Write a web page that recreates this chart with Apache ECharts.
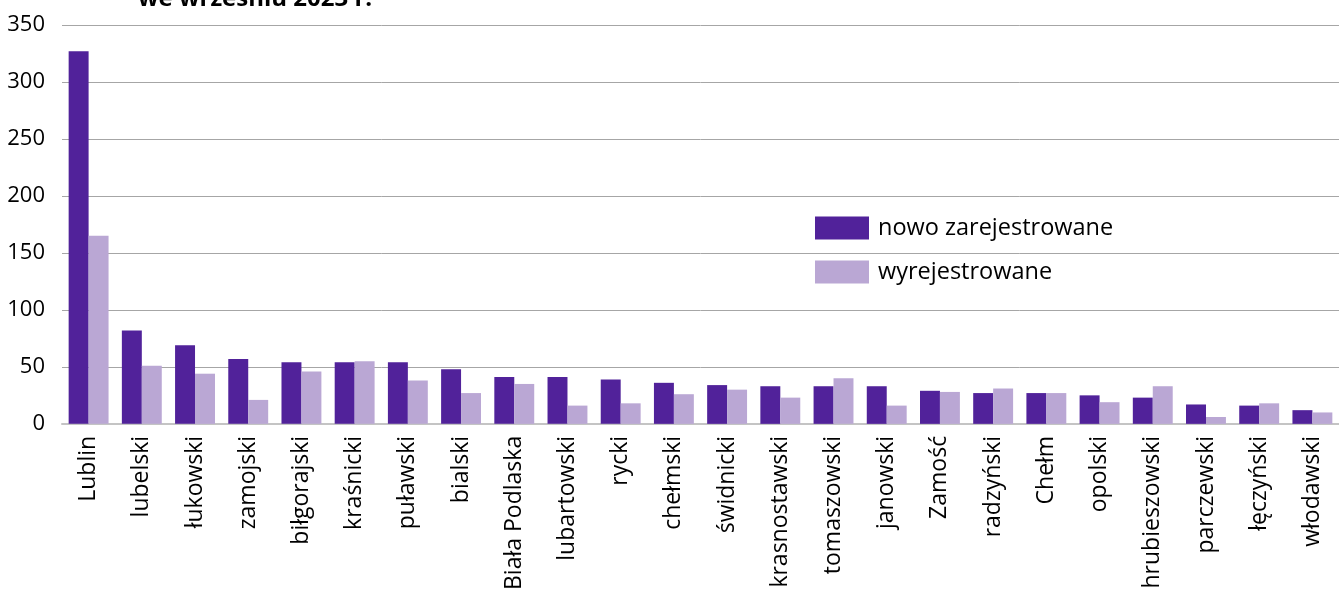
<!DOCTYPE html>
<html>
<head>
<meta charset="utf-8">
<script src="https://cdn.jsdelivr.net/npm/echarts@6/dist/echarts.min.js"></script>
<style>
  html, body { margin: 0; padding: 0; background: #fff; }
  #chart { width: 1339px; height: 593px; }
</style>
</head>
<body>
<div id="chart"></div>
<script>
// powiaty / miasta
const categories = ['Lublin', 'lubelski', 'łukowski', 'zamojski', 'biłgorajski', 'kraśnicki', 'puławski', 'bialski',
  'Biała Podlaska', 'lubartowski', 'rycki', 'chełmski', 'świdnicki', 'krasnostawski', 'tomaszowski', 'janowski',
  'Zamość', 'radzyński', 'Chełm', 'opolski', 'hrubieszowski', 'parczewski', 'łęczyński', 'włodawski'];
const nowoZarejestrowane = [327, 82, 69, 57, 54, 54, 54, 48, 41, 41, 39, 36, 34, 33, 33, 33, 29, 27, 27, 25, 23, 17, 16, 12];
const wyrejestrowane = [165, 51, 44, 21, 46, 55, 38, 27, 35, 16, 18, 26, 30, 23, 40, 16, 28, 31, 27, 19, 33, 6, 18, 10];
const yTicks = [0, 50, 100, 150, 200, 250, 300, 350];

const font = '"Open Sans", "Noto Sans", sans-serif';

var myChart = echarts.init(document.getElementById('chart'));
myChart.setOption({
  animation: false,
  title: {
    text: 'we wrześniu 2023 r.',
    left: 133,
    top: -18,
    textStyle: { fontFamily: font, fontWeight: 'bold', fontSize: 24, color: '#000' }
  },
  legend: {
    orient: 'vertical',
    left: 810,
    top: 211,
    icon: 'rect',
    itemWidth: 54,
    itemHeight: 23,
    itemGap: 20,
    itemStyle: { borderWidth: 0 },
    textStyle: { fontFamily: font, fontSize: 23.5, color: '#000', padding: [0, 0, 0, 4] },
    data: ['nowo zarejestrowane', 'wyrejestrowane']
  },
  grid: { left: 62, right: 0, top: 25, bottom: 166, containLabel: false },
  xAxis: {
    type: 'category',
    data: categories,
    axisLine: { lineStyle: { color: '#c4c4c4', width: 2 } },
    axisTick: { show: false },
    axisLabel: { rotate: 90, interval: 0, margin: 12, fontFamily: font, fontSize: 23, color: '#000' }
  },
  yAxis: {
    type: 'value',
    min: yTicks[0],
    max: yTicks[yTicks.length - 1],
    interval: 50,
    axisLine: { show: false },
    axisTick: { show: false },
    splitLine: { lineStyle: { color: '#a6a6a6', width: 1 } },
    axisLabel: { margin: 17, fontFamily: font, fontSize: 22, color: '#000' }
  },
  series: [
    {
      name: 'nowo zarejestrowane',
      type: 'bar',
      data: nowoZarejestrowane,
      barGap: '0%',
      barCategoryGap: '25%',
      itemStyle: { color: '#51229a' }
    },
    {
      name: 'wyrejestrowane',
      type: 'bar',
      data: wyrejestrowane,
      itemStyle: { color: '#baa7d4' }
    }
  ]
});
</script>
</body>
</html>
